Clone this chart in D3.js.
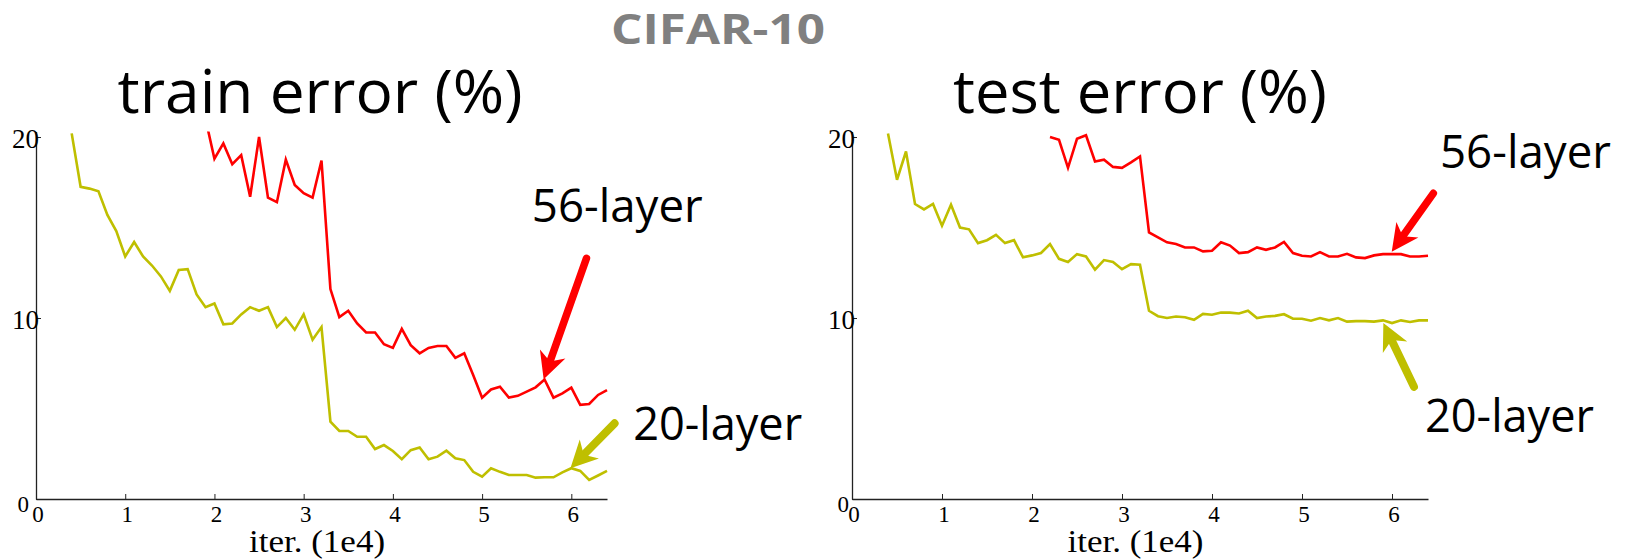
<!DOCTYPE html>
<html>
<head>
<meta charset="utf-8">
<script src="https://cdn.jsdelivr.net/npm/d3@7"></script>
<style>
  html, body { margin: 0; padding: 0; background: #ffffff; }
  svg { display: block; }
</style>
</head>
<body>
<svg id="chart" width="1631" height="560"></svg>
<script>
// ---------------- DATA ----------------
const xTicks = [0, 1, 2, 3, 4, 5, 6];
const yTicks = [0, 10, 20];

const trainIter20 = [0.4,0.5,0.6,0.7,0.8,0.9,1.0,1.1,1.2,1.3,1.4,1.5,1.6,1.7,1.8,1.9,2.0,2.1,2.2,2.3,2.4,2.5,2.6,2.7,2.8,2.9,3.0,3.1,3.2,3.3,3.4,3.5,3.6,3.7,3.8,3.9,4.0,4.1,4.2,4.3,4.4,4.5,4.6,4.7,4.8,4.9,5.0,5.1,5.2,5.3,5.4,5.5,5.6,5.7,5.8,5.9,6.0,6.1,6.2,6.3,6.4];
const trainErr20 = [20.2,17.25,17.15,17.0,15.7,14.8,13.4,14.2,13.4,12.9,12.3,11.5,12.65,12.7,11.3,10.6,10.8,9.65,9.7,10.2,10.6,10.4,10.6,9.5,10.0,9.35,10.2,8.8,9.5,4.27,3.76,3.76,3.44,3.44,2.76,2.98,2.65,2.2,2.7,2.85,2.2,2.34,2.67,2.25,2.15,1.5,1.23,1.7,1.5,1.33,1.33,1.33,1.18,1.2,1.2,1.47,1.7,1.55,1.05,1.3,1.55];

const trainIter56 = [1.9,2.0,2.1,2.2,2.3,2.4,2.5,2.6,2.7,2.8,2.9,3.0,3.1,3.2,3.3,3.4,3.5,3.6,3.7,3.8,3.9,4.0,4.1,4.2,4.3,4.4,4.5,4.6,4.7,4.8,4.9,5.0,5.1,5.2,5.3,5.4,5.5,5.6,5.7,5.8,5.9,6.0,6.1,6.2,6.3,6.4];
const trainErr56 = [21.0,18.8,19.65,18.5,19.0,16.7,20.0,16.65,16.4,18.75,17.35,16.9,16.65,18.7,11.6,10.05,10.4,9.7,9.2,9.2,8.55,8.35,9.4,8.5,8.05,8.35,8.45,8.45,7.8,8.05,6.85,5.6,6.05,6.2,5.6,5.7,5.93,6.17,6.6,5.6,5.84,6.15,5.2,5.25,5.75,6.02];

const testIter20 = [0.4,0.5,0.6,0.7,0.8,0.9,1.0,1.1,1.2,1.3,1.4,1.5,1.6,1.7,1.8,1.9,2.0,2.1,2.2,2.3,2.4,2.5,2.6,2.7,2.8,2.9,3.0,3.1,3.2,3.3,3.4,3.5,3.6,3.7,3.8,3.9,4.0,4.1,4.2,4.3,4.4,4.5,4.6,4.7,4.8,4.9,5.0,5.1,5.2,5.3,5.4,5.5,5.6,5.7,5.8,5.9,6.0,6.1,6.2,6.3,6.4];
const testErr20 = [20.2,17.64,19.2,16.3,16.0,16.3,15.1,16.26,15.0,14.9,14.14,14.3,14.6,14.14,14.3,13.35,13.46,13.59,14.09,13.27,13.1,13.53,13.4,12.67,13.2,13.1,12.7,12.98,12.94,10.4,10.1,10.0,10.08,10.04,9.9,10.23,10.18,10.3,10.3,10.25,10.4,10.0,10.08,10.12,10.21,9.96,9.96,9.85,10.0,9.87,10.0,9.8,9.83,9.83,9.8,9.87,9.72,9.87,9.78,9.87,9.87];

const testIter56 = [2.2,2.3,2.4,2.5,2.6,2.7,2.8,2.9,3.0,3.1,3.2,3.3,3.4,3.5,3.6,3.7,3.8,3.9,4.0,4.1,4.2,4.3,4.4,4.5,4.6,4.7,4.8,4.9,5.0,5.1,5.2,5.3,5.4,5.5,5.6,5.7,5.8,5.9,6.0,6.1,6.2,6.3,6.4];
const testErr56 = [20.0,19.85,18.3,19.9,20.1,18.65,18.75,18.35,18.3,18.6,18.93,14.73,14.45,14.18,14.09,13.9,13.9,13.68,13.72,14.18,14.0,13.59,13.64,13.9,13.77,13.9,14.2,13.59,13.44,13.4,13.64,13.4,13.4,13.55,13.35,13.31,13.46,13.53,13.53,13.53,13.4,13.4,13.44];

const seriesNames = ["20-layer", "56-layer"];
const panelTitles = ["train error (%)", "test error (%)"];
const suptitle = "CIFAR-10";
const xLabel = "iter. (1e4)";

// annotation anchors in data units [iter, error]
const trainArrow56 = [[6.17, 13.3], [5.69, 6.61]];
const trainArrow20 = [[6.485, 4.18], [5.99, 1.70]];
const trainLabel56 = [5.557, 15.32];
const trainLabel20 = [6.693, 3.26];
const testArrow56 = [[6.459, 16.89], [5.997, 13.66]];
const testArrow20 = [[6.244, 6.20], [5.904, 9.73]];
const testLabel56 = [6.533, 18.27];
const testLabel20 = [6.367, 3.72];

// ---------------- STYLE ----------------
const RED = "#ff0000";
const OLIVE = "#bfbf00";
const sansFont = "'Open Sans', 'Noto Sans', sans-serif";
const serifFont = "'Liberation Serif', 'Times New Roman', serif";

const svg = d3.select("#chart");
svg.append("rect").attr("width", 1631).attr("height", 560).attr("fill", "#fff");

// super title
svg.append("text")
  .attr("x", 718).attr("y", 44)
  .attr("text-anchor", "middle")
  .attr("font-family", sansFont)
  .attr("font-weight", 700)
  .attr("font-size", 41)
  .attr("fill", "#808080")
  .attr("textLength", 214)
  .attr("lengthAdjust", "spacingAndGlyphs")
  .text(suptitle);

function drawArrow(g, p1, p2, color, width) {
  const dx = p2[0] - p1[0], dy = p2[1] - p1[1];
  const len = Math.hypot(dx, dy);
  const ux = dx / len, uy = dy / len;
  const px = -uy, py = ux;
  const headL = 27, headW = 13.5, notch = 8;
  const bx = p2[0] - ux * headL, by = p2[1] - uy * headL;
  const nx = p2[0] - ux * (headL - notch), ny = p2[1] - uy * (headL - notch);
  g.append("line")
    .attr("x1", p1[0]).attr("y1", p1[1])
    .attr("x2", nx).attr("y2", ny)
    .attr("stroke", color).attr("stroke-width", width)
    .attr("stroke-linecap", "round");
  g.append("path")
    .attr("d", `M${p2[0]},${p2[1]} L${bx + px * headW},${by + py * headW} L${nx},${ny} L${bx - px * headW},${by - py * headW} Z`)
    .attr("fill", color);
}

function panel(opts) {
  const { id, xRange, yBottom, yTop, title, titleX, titleLen,
          s20, s56, arrow56, arrow20, label56, label20, zeroLabelDx } = opts;
  const x = d3.scaleLinear().domain([0, 6.4]).range(xRange);
  const y = d3.scaleLinear().domain([0, 20.3]).range([yBottom, yTop]);
  const g = svg.append("g");

  // title
  g.append("text")
    .attr("x", titleX).attr("y", 113)
    .attr("text-anchor", "middle")
    .attr("font-family", sansFont)
    .attr("font-size", 61)
    .attr("fill", "#000")
    .attr("textLength", titleLen)
    .attr("lengthAdjust", "spacingAndGlyphs")
    .text(title);

  // clip
  g.append("clipPath").attr("id", "clip" + id)
    .append("rect")
    .attr("x", xRange[0]).attr("y", yTop)
    .attr("width", xRange[1] - xRange[0] + 1)
    .attr("height", yBottom - yTop);

  // axes
  const xAxis = d3.axisBottom(x).tickValues(xTicks).tickSizeInner(-5).tickSizeOuter(0).tickFormat(d3.format("d"));
  const gx = g.append("g").attr("transform", `translate(0,${yBottom})`).call(xAxis);
  gx.select(".domain").attr("stroke", "#222").attr("stroke-width", 1.3);
  gx.selectAll(".tick line").attr("stroke", "#222").attr("stroke-width", 1);
  gx.selectAll(".tick text")
    .attr("y", 23).attr("dy", 0).attr("dx", 1.5)
    .attr("font-family", serifFont).attr("font-size", 23).attr("fill", "#000");

  const yAxis = d3.axisLeft(y).tickValues(yTicks).tickSizeInner(-5).tickSizeOuter(0).tickFormat(d3.format("d"));
  const gy = g.append("g").attr("transform", `translate(${xRange[0]},0)`).call(yAxis);
  gy.select(".domain").attr("stroke", "#222").attr("stroke-width", 1.3);
  gy.selectAll(".tick line").attr("stroke", "#222").attr("stroke-width", 1);
  gy.selectAll(".tick text")
    .attr("font-family", serifFont).attr("fill", "#000")
    .each(function (d) {
      const t = d3.select(this);
      if (d === 0) {
        t.attr("x", zeroLabelDx).attr("dy", 0).attr("y", 12).attr("font-size", 23);
      } else {
        t.attr("x", 3).attr("dy", 0).attr("y", 10).attr("font-size", 27);
      }
    });

  // x label
  g.append("text")
    .attr("x", x(3.15)).attr("y", 552)
    .attr("text-anchor", "middle")
    .attr("font-family", serifFont)
    .attr("font-size", 32)
    .attr("fill", "#000")
    .attr("textLength", 136)
    .attr("lengthAdjust", "spacingAndGlyphs")
    .text(xLabel);

  // lines
  const line = d3.line().x(d => x(d[0])).y(d => y(d[1]));
  const lines = g.append("g").attr("clip-path", `url(#clip${id})`);
  lines.append("path").datum(s20)
    .attr("d", line).attr("fill", "none")
    .attr("stroke", OLIVE).attr("stroke-width", 2.6).attr("stroke-linejoin", "miter");
  lines.append("path").datum(s56)
    .attr("d", line).attr("fill", "none")
    .attr("stroke", RED).attr("stroke-width", 2.6).attr("stroke-linejoin", "miter");

  // annotations
  const pt = d => [x(d[0]), y(d[1])];
  drawArrow(g, pt(arrow56[0]), pt(arrow56[1]), RED, 7.5);
  drawArrow(g, pt(arrow20[0]), pt(arrow20[1]), OLIVE, 8);
  g.append("text")
    .attr("x", x(label56[0])).attr("y", y(label56[1]))
    .attr("font-family", sansFont).attr("font-size", 46).attr("fill", "#000")
    .attr("textLength", 171).attr("lengthAdjust", "spacingAndGlyphs")
    .text(seriesNames[1]);
  g.append("text")
    .attr("x", x(label20[0])).attr("y", y(label20[1]))
    .attr("font-family", sansFont).attr("font-size", 46).attr("fill", "#000")
    .attr("textLength", 169).attr("lengthAdjust", "spacingAndGlyphs")
    .text(seriesNames[0]);
}

const zip = (a, b) => a.map((v, i) => [v, b[i]]);

panel({
  id: "train", xRange: [36, 607], yBottom: 499, yTop: 131.6,
  title: panelTitles[0], titleX: 320, titleLen: 405,
  s20: zip(trainIter20, trainErr20), s56: zip(trainIter56, trainErr56),
  arrow56: trainArrow56, arrow20: trainArrow20,
  label56: trainLabel56, label20: trainLabel20, zeroLabelDx: -7
});
panel({
  id: "test", xRange: [852, 1428], yBottom: 499, yTop: 131.6,
  title: panelTitles[1], titleX: 1140, titleLen: 374,
  s20: zip(testIter20, testErr20), s56: zip(testIter56, testErr56),
  arrow56: testArrow56, arrow20: testArrow20,
  label56: testLabel56, label20: testLabel20, zeroLabelDx: -3
});
</script>
</body>
</html>
